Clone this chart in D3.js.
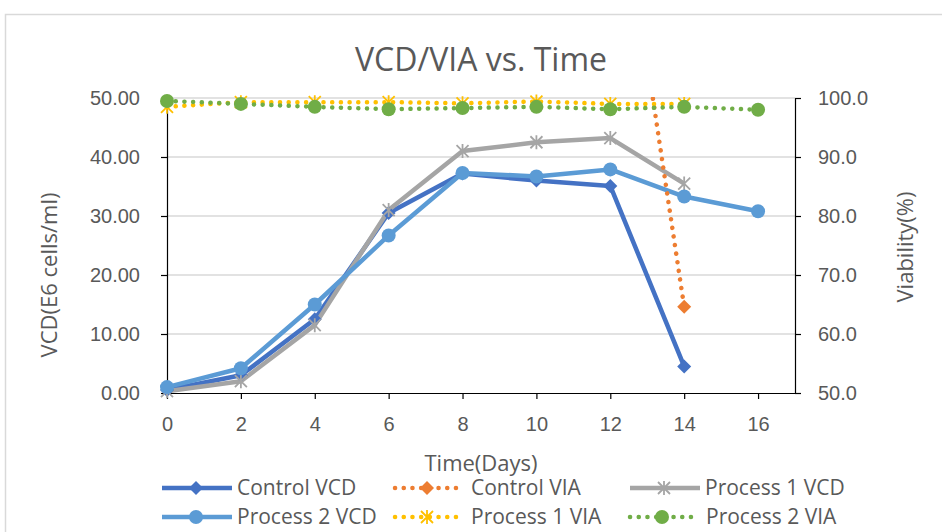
<!DOCTYPE html>
<meta charset="utf-8">
<style>
body { margin: 0; background: #fff; }
svg { font-family: "Open Sans", "Liberation Sans", Arial, sans-serif; }
.tick text { fill: #595959; font-size: 20px; }
</style>
<svg width="942" height="532"></svg>
<script src="https://cdnjs.cloudflare.com/ajax/libs/d3/7.8.5/d3.min.js"></script>
<script>

var days = [0, 2, 4, 6, 8, 10, 12, 14, 16];
var dayTicks = [0, 2, 4, 6, 8, 10, 12, 14, 16];
var vcdTicks = [0, 10, 20, 30, 40, 50];
var viaTicks = [50, 60, 70, 80, 90, 100];

var controlVcd = [0.5, 3.0, 12.5, 30.5, 37.2, 36.0, 35.1, 4.5];
var process1Vcd = [0.3, 2.0, 11.5, 31.0, 41.0, 42.5, 43.2, 35.5];
var process2Vcd = [1.0, 4.2, 15.0, 26.7, 37.3, 36.7, 37.9, 33.3, 30.8];

// control VIA before day 14 lies above the axis max, only the drop is visible
var controlViaDays = [12, 14];
var controlVia = [148, 64.6];
var process1Via = [98.5, 99.3, 99.3, 99.3, 99.1, 99.4, 99.0, 99.0];
var process2Via = [99.5, 99.0, 98.5, 98.1, 98.3, 98.5, 98.1, 98.5, 98.0];

var svg = d3.select("svg");

svg.append("rect")
    .attr("x", 5.5).attr("y", 14.5)
    .attr("width", 960).attr("height", 540)
    .attr("fill", "none").attr("stroke", "#d9d9d9").attr("stroke-width", 1.5);

var pLeft = 167, pRight = 795, pTop = 98, pBottom = 393;

var x = d3.scaleLinear().domain([0, 17]).range([pLeft, pRight]);
var yL = d3.scaleLinear().domain([0, 50]).range([pBottom, pTop]);
var yR = d3.scaleLinear().domain([50, 100]).range([pBottom, pTop]);

svg.append("defs").append("clipPath").attr("id", "plot")
  .append("rect").attr("x", pLeft - 20).attr("y", pTop - 1)
    .attr("width", pRight - pLeft + 40).attr("height", pBottom - pTop + 20);

// gridlines
svg.append("g").selectAll("line")
    .data(vcdTicks.slice(1))
  .enter().append("line")
    .attr("x1", pLeft).attr("x2", pRight)
    .attr("y1", function(d) { return yL(d); })
    .attr("y2", function(d) { return yL(d); })
    .attr("stroke", "#d9d9d9").attr("stroke-width", 1.5);

function styleAxis(g) {
  g.selectAll(".domain").attr("stroke", "#000").attr("stroke-width", 1.2);
  g.selectAll(".tick line").attr("stroke", "#000").attr("stroke-width", 1.2);
}

svg.append("g")
    .attr("transform", "translate(" + pLeft + ",0)")
    .call(d3.axisLeft(yL).tickValues(vcdTicks).tickFormat(d3.format(".2f")).tickSizeInner(6).tickSizeOuter(0).tickPadding(21))
    .call(styleAxis);

svg.append("g")
    .attr("transform", "translate(" + pRight + ",0)")
    .call(d3.axisRight(yR).tickValues(viaTicks).tickFormat(d3.format(".1f")).tickSizeInner(6).tickSizeOuter(0).tickPadding(17))
    .call(styleAxis);

svg.append("g")
    .attr("transform", "translate(0," + pBottom + ")")
    .call(d3.axisBottom(x).tickValues(dayTicks).tickSizeInner(6).tickSizeOuter(0).tickPadding(18))
    .call(styleAxis);

// titles
svg.append("text").attr("x", 481).attr("y", 71).attr("text-anchor", "middle")
    .attr("fill", "#595959").attr("font-size", 32).text("VCD/VIA vs. Time");
svg.append("text").attr("x", 481).attr("y", 471).attr("text-anchor", "middle")
    .attr("fill", "#595959").attr("font-size", 22).text("Time(Days)");
svg.append("text").attr("transform", "translate(57,275) rotate(-90)").attr("text-anchor", "middle")
    .attr("fill", "#595959").attr("font-size", 22).text("VCD(E6 cells/ml)");
svg.append("text").attr("transform", "translate(913,247) rotate(-90)").attr("text-anchor", "middle")
    .attr("fill", "#595959").attr("font-size", 22).text("Viability(%)");

function marker(g, type, color, cx, cy) {
  if (type === "diamond") {
    var r = 7;
    g.append("path")
      .attr("d", "M" + cx + "," + (cy - r) + "L" + (cx + r) + "," + cy + "L" + cx + "," + (cy + r) + "L" + (cx - r) + "," + cy + "Z")
      .attr("fill", color);
  } else if (type === "circle") {
    g.append("circle").attr("cx", cx).attr("cy", cy).attr("r", 7).attr("fill", color);
  } else if (type === "star") {
    var s = 6, p = "M" + (cx - s) + "," + (cy - s) + "L" + (cx + s) + "," + (cy + s) +
      "M" + (cx + s) + "," + (cy - s) + "L" + (cx - s) + "," + (cy + s) +
      "M" + cx + "," + (cy - s - 1) + "L" + cx + "," + (cy + s + 1);
    g.append("path").attr("d", p).attr("stroke", color).attr("stroke-width", 1.8).attr("fill", "none");
  }
}

var series = [
  { xs: days, ys: controlVcd, scale: yL, color: "#4472c4", type: "diamond", dotted: false },
  { xs: days, ys: process1Vcd, scale: yL, color: "#a5a5a5", type: "star", dotted: false },
  { xs: days, ys: process2Vcd, scale: yL, color: "#5b9bd5", type: "circle", dotted: false },
  { xs: controlViaDays, ys: controlVia, scale: yR, color: "#ed7d31", type: "diamond", dotted: true },
  { xs: days, ys: process1Via, scale: yR, color: "#ffc000", type: "star", dotted: true },
  { xs: days, ys: process2Via, scale: yR, color: "#70ad47", type: "circle", dotted: true }
];

var plot = svg.append("g").attr("clip-path", "url(#plot)");

series.forEach(function(s) {
  var pts = s.ys.map(function(v, i) { return [s.xs[i], v]; });
  var line = d3.line().x(function(d) { return x(d[0]); }).y(function(d) { return s.scale(d[1]); });
  var path = plot.append("path").datum(pts).attr("d", line)
      .attr("fill", "none").attr("stroke", s.color)
      .attr("stroke-width", 4.5)
      .attr("stroke-linejoin", "round");
  if (s.dotted) path.attr("stroke-dasharray", "0.1 8.6").attr("stroke-linecap", "round");
  var g = svg.append("g");
  pts.forEach(function(d) {
    if (d[1] <= s.scale.domain()[1] + 1) marker(g, s.type, s.color, x(d[0]), s.scale(d[1]));
  });
});

// legend
var legend = [
  { name: "Control VCD", s: 0, lx: 160, ly: 488 },
  { name: "Control VIA", s: 3, lx: 393, ly: 488 },
  { name: "Process 1 VCD", s: 1, lx: 628, ly: 488 },
  { name: "Process 2 VCD", s: 2, lx: 160, ly: 517 },
  { name: "Process 1 VIA", s: 4, lx: 393, ly: 517 },
  { name: "Process 2 VIA", s: 5, lx: 628, ly: 517 }
];

legend.forEach(function(l) {
  var s = series[l.s];
  var g = svg.append("g");
  var len = s.dotted ? 68 : 72;
  var ln = g.append("line").attr("x1", l.lx + 2).attr("x2", l.lx + len).attr("y1", l.ly).attr("y2", l.ly)
      .attr("stroke", s.color).attr("stroke-width", 4.5);
  if (s.dotted) ln.attr("stroke-dasharray", "0.1 8.6").attr("stroke-linecap", "round");
  marker(g, s.type, s.color, l.lx + (s.dotted ? 34 : 36), l.ly);
  g.append("text").attr("x", l.lx + (s.dotted ? 78 : 77)).attr("y", l.ly + 7)
      .attr("fill", "#595959").attr("font-size", 21).text(l.name);
});

</script>
